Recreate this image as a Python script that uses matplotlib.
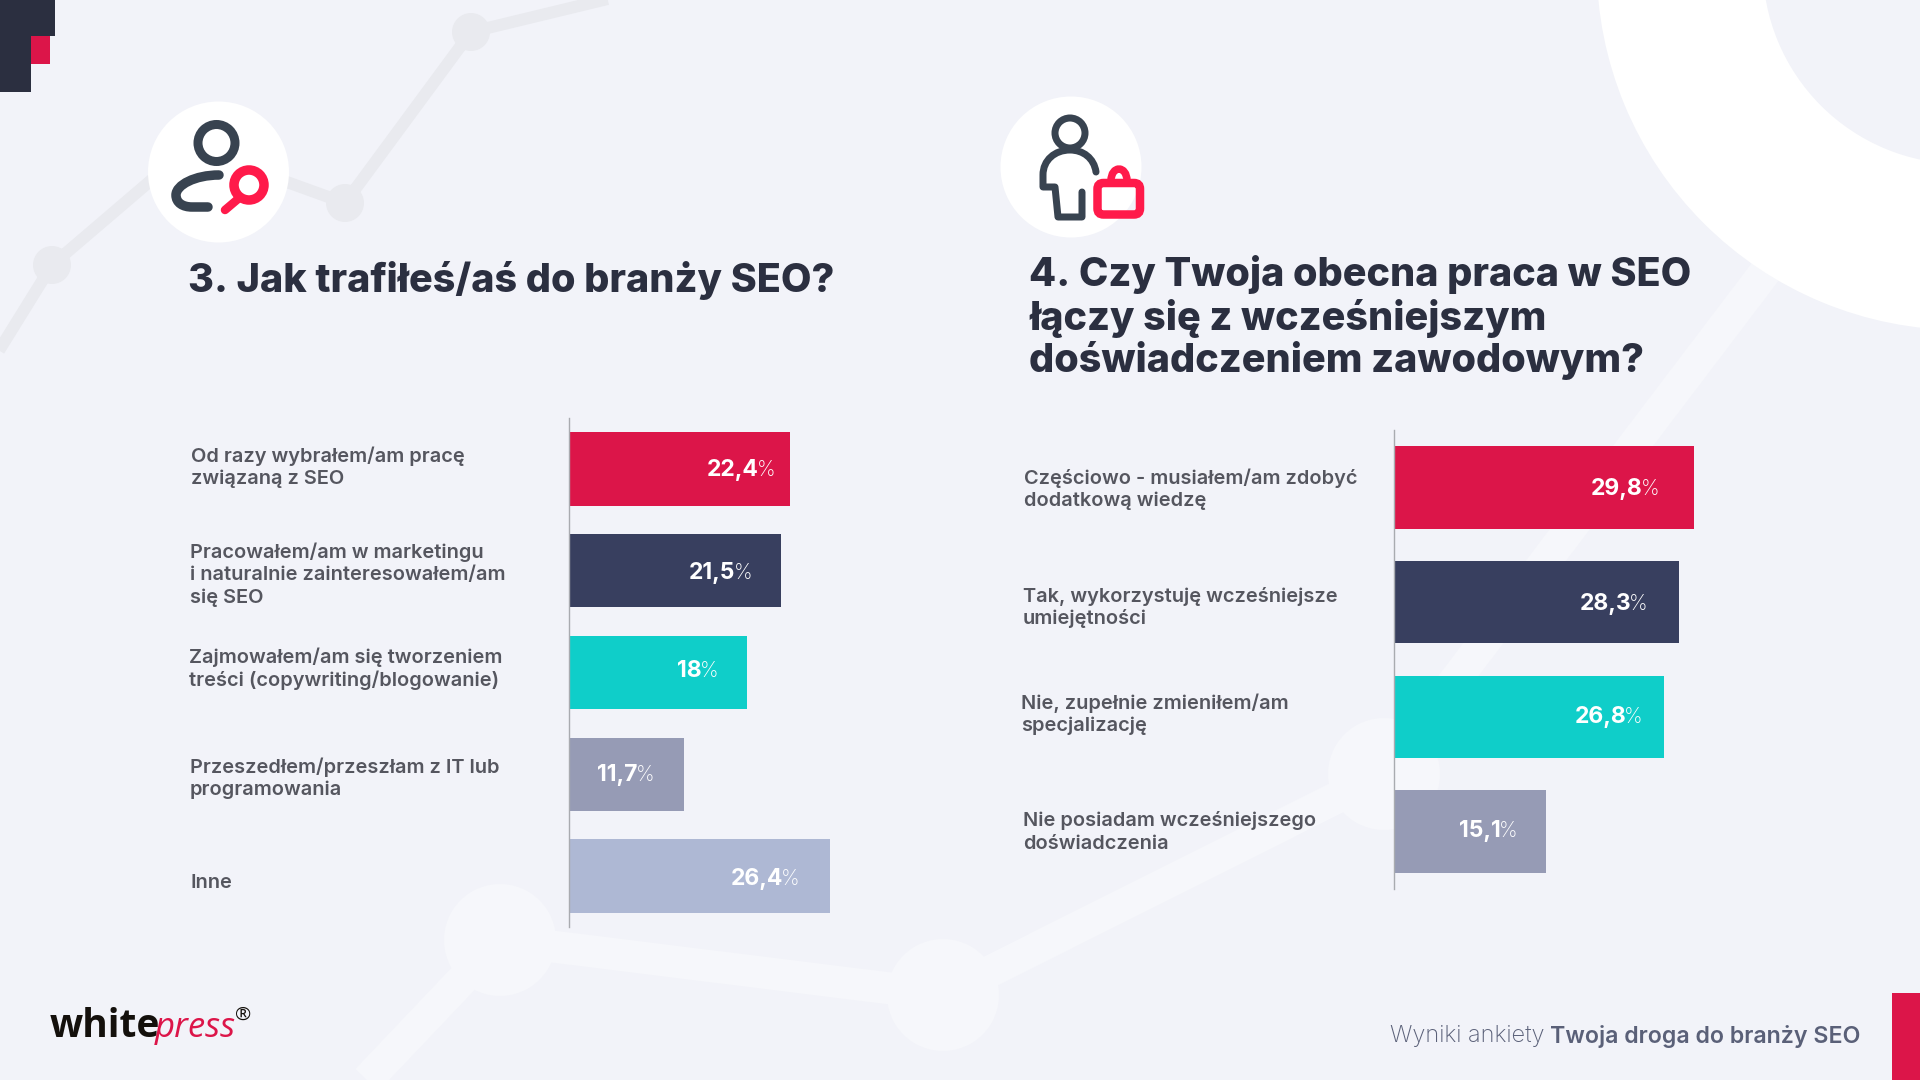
import matplotlib
matplotlib.use('Agg')
import matplotlib.pyplot as plt
from matplotlib.patches import Circle, Rectangle, Wedge, FancyBboxPatch, PathPatch
from matplotlib.path import Path

# data
labels_q3 = ['Od razy wybrałem/am pracę\nzwiązaną z SEO',
             'Pracowałem/am w marketingu\ni naturalnie zainteresowałem/am\nsię SEO',
             'Zajmowałem/am się tworzeniem\ntreści (copywriting/blogowanie)',
             'Przeszedłem/przeszłam z IT lub\nprogramowania',
             'Inne']
values_q3 = [22.4, 21.5, 18, 11.7, 26.4]
value_text_q3 = ['22,4', '21,5', '18', '11,7', '26,4']

labels_q4 = ['Częściowo - musiałem/am zdobyć\ndodatkową wiedzę',
             'Tak, wykorzystuję wcześniejsze\numiejętności',
             'Nie, zupełnie zmieniłem/am\nspecjalizację',
             'Nie posiadam wcześniejszego\ndoświadczenia']
values_q4 = [29.8, 28.3, 26.8, 15.1]
value_text_q4 = ['29,8', '28,3', '26,8', '15,1']

title_q3 = '3. Jak trafiłeś/aś do branży SEO?'
title_q4 = ['4. Czy Twoja obecna praca w SEO', 'łączy się z wcześniejszym', 'doświadczeniem zawodowym?']

# colours
BG = '#F2F3F9'
DARK = '#2B2F40'
RED = '#DC1549'
ICON_DARK = '#384350'
ICON_RED = '#FF1A4A'
GREY_LINE = '#E9EAEF'
LIGHT_LINE = '#F6F7FB'
bar_colors = ['#DC1549', '#383F5F', '#0FCEC9', '#969BB5', '#AEB8D4']
bar_colors_q4 = bar_colors[:4]

plt.rcParams['font.family'] = ['Inter', 'DejaVu Sans']

fig = plt.figure(figsize=(19.2, 10.8), dpi=100, facecolor=BG)

# whole figure in pixels, for the background and the free text
bg = fig.add_axes([0, 0, 1, 1])
bg.set_xlim(0, 1920)
bg.set_ylim(1080, 0)
bg.axis('off')
PX = 0.72  # pixels to points


def polyline(xs, ys, color, width, nodes, r):
    bg.plot(xs, ys, color=color, lw=width * PX, solid_capstyle='butt', zorder=1)
    for x, y in nodes:
        bg.add_patch(Circle((x, y), r, fc=color, ec='none', zorder=1))


# lighter line at the bottom
polyline([367, 500, 943, 1384, 1797], [1080, 940, 995, 774, 230], LIGHT_LINE, 32,
         [(500, 940), (943, 995), (1384, 774)], 56)
# grey line at the top
polyline([-10, 52, 190, 345, 471, 620], [365, 265, 147, 203, 32, -4], GREY_LINE, 12,
         [(52, 265), (345, 203), (471, 32)], 19)

# white arc top right
bg.add_patch(Wedge((1961.7, -35), 365, 0, 360, width=166, fc='white', ec='none', zorder=2))

# corner shapes
bg.add_patch(Rectangle((0, 0), 54.5, 36, fc=DARK, ec='none', zorder=3))
bg.add_patch(Rectangle((0, 0), 31, 92, fc=DARK, ec='none', zorder=3))
bg.add_patch(Rectangle((31, 36), 19, 28, fc=RED, ec='none', zorder=3))
bg.add_patch(Rectangle((1892, 993), 28, 87, fc=RED, ec='none', zorder=3))

# icon circles
bg.add_patch(Circle((218.5, 172), 70.5, fc='white', ec='none', zorder=3))
bg.add_patch(Circle((1071, 167), 70.5, fc='white', ec='none', zorder=3))


def stroke(verts, codes, color, width):
    bg.add_patch(PathPatch(Path(verts, codes), fc='none', ec=color, lw=width * PX,
                           capstyle='round', joinstyle='round', zorder=4))


M, L, C = Path.MOVETO, Path.LINETO, Path.CURVE4

# person with magnifier
bg.add_patch(Circle((216.5, 143), 18.5, fc='none', ec=ICON_DARK, lw=9 * PX, zorder=4))
stroke([(219, 175), (195, 175), (176, 185), (176, 195), (176, 203), (183, 207), (192, 207), (208, 207)],
       [M, C, C, C, C, C, C, L], ICON_DARK, 9.5)
bg.add_patch(Circle((249, 185), 15, fc='none', ec=ICON_RED, lw=9.5 * PX, zorder=4))
stroke([(238, 199), (225, 210)], [M, L], ICON_RED, 8.5)

# person with briefcase
bg.add_patch(Circle((1070, 133), 15, fc='none', ec=ICON_DARK, lw=7 * PX, zorder=4))
stroke([(1096, 172), (1094, 158), (1083, 150), (1070, 150), (1055, 150), (1043, 160), (1043, 175),
        (1043, 187), (1055, 187), (1058, 217), (1082, 217), (1082, 192)],
       [M, C, C, C, C, C, C, L, L, L, L, L], ICON_DARK, 7)
bg.add_patch(FancyBboxPatch((1097.5, 183), 42.5, 31.5, boxstyle='round,pad=0,rounding_size=6',
                            fc='none', ec=ICON_RED, lw=8.5 * PX, zorder=4))
stroke([(1111, 181), (1111, 165), (1127, 165), (1127, 181)], [M, C, C, C], ICON_RED, 7.5)

renderer = fig.canvas.get_renderer()


def bars(left, top, bottom, px_per_pct, values, colors):
    ax = fig.add_axes([left / 1920, 1 - bottom / 1080, 30 * px_per_pct / 1920, (bottom - top) / 1080])
    ax.patch.set_visible(False)
    y = list(range(len(values)))
    ax.barh(y, values, height=0.72, color=colors, zorder=2)
    ax.set_xlim(0, 30)
    ax.set_ylim(len(values) - 0.5, -0.5)
    for s in ['top', 'right', 'bottom']:
        ax.spines[s].set_visible(False)
    ax.spines['left'].set_color('#A9ABB0')
    ax.spines['left'].set_linewidth(1.0)
    ax.set_xticks([])
    ax.set_yticks([])
    return ax


def value_labels(ax, values, texts, insets, offsets, size):
    # number in bold and the percent sign in a thin weight, right aligned in the bar
    for i, (v, s, inset, dy) in enumerate(zip(values, texts, insets, offsets)):
        x, y = ax.transData.transform((v, i))
        x -= inset
        y = 1080 - y + 8 + dy
        pct = ax.text(x, y, '%', color='white', fontsize=15, fontweight='light', ha='right',
                      va='baseline', transform=bg.transData, clip_on=False, zorder=6)
        w = pct.get_window_extent(renderer).width
        ax.text(x - w + 2, y, s, color='white', fontsize=size, fontweight='bold', ha='right',
                va='baseline', transform=bg.transData, clip_on=False, zorder=6)


ax3 = bars(568.8, 418, 927, 9.88, values_q3, bar_colors)
ax4 = bars(1394, 430, 889, 10.07, values_q4, bar_colors_q4)
value_labels(ax3, values_q3, value_text_q3, [15, 29, 28, 30, 30], [-1, 0, -3.5, -1, 1], 16.5)
value_labels(ax4, values_q4, value_text_q4, [35, 31, 21, 29], [0, 0, -2, -2.5], 16.5)

# titles
bg.text(188, 281, title_q3, color=DARK, fontsize=28.5, fontweight=800, ha='left', va='center', zorder=5)
for line, y in zip(title_q4, [275, 318, 361]):
    bg.text(1029, y, line, color=DARK, fontsize=28.5, fontweight=800, ha='left', va='center', zorder=5)

# category labels: anchor of the first line, pixels
label_pos_q3 = [(191, 456), (190, 552), (189, 657), (190, 767), (191, 883)]
label_pos_q4 = [(1024, 478), (1023, 596), (1021, 703), (1023, 821)]
for labels, pos in [(labels_q3, label_pos_q3), (labels_q4, label_pos_q4)]:
    for lab, (x, y) in zip(labels, pos):
        for k, line in enumerate(lab.split('\n')):
            bg.text(x, y + k * 23, line, color='#55565F', fontsize=14.4, fontweight='semibold',
                    ha='left', va='center', zorder=5)

# footer
bg.text(1390, 1036, 'Wyniki ankiety ', color='#5A6078', fontsize=17, fontweight='light',
        ha='left', va='center', zorder=5)
bg.text(1550, 1036, 'Twoja droga do branży SEO', color='#5A6078', fontsize=16.7, fontweight='semibold',
        ha='left', va='center', zorder=5)

# logo
bg.text(50, 1037, 'white', color='#14100C', fontsize=28, fontweight='bold',
        family='Open Sans', ha='left', va='baseline', zorder=5)
bg.text(155, 1037, 'press', color=RED, fontsize=25, fontstyle='italic',
        family='Open Sans', ha='left', va='baseline', zorder=5)
bg.text(243, 1015, '®', color='#14100C', fontsize=14, family='Open Sans', ha='center', va='center', zorder=5)

fig.savefig('out.png', dpi=100, facecolor=BG)
